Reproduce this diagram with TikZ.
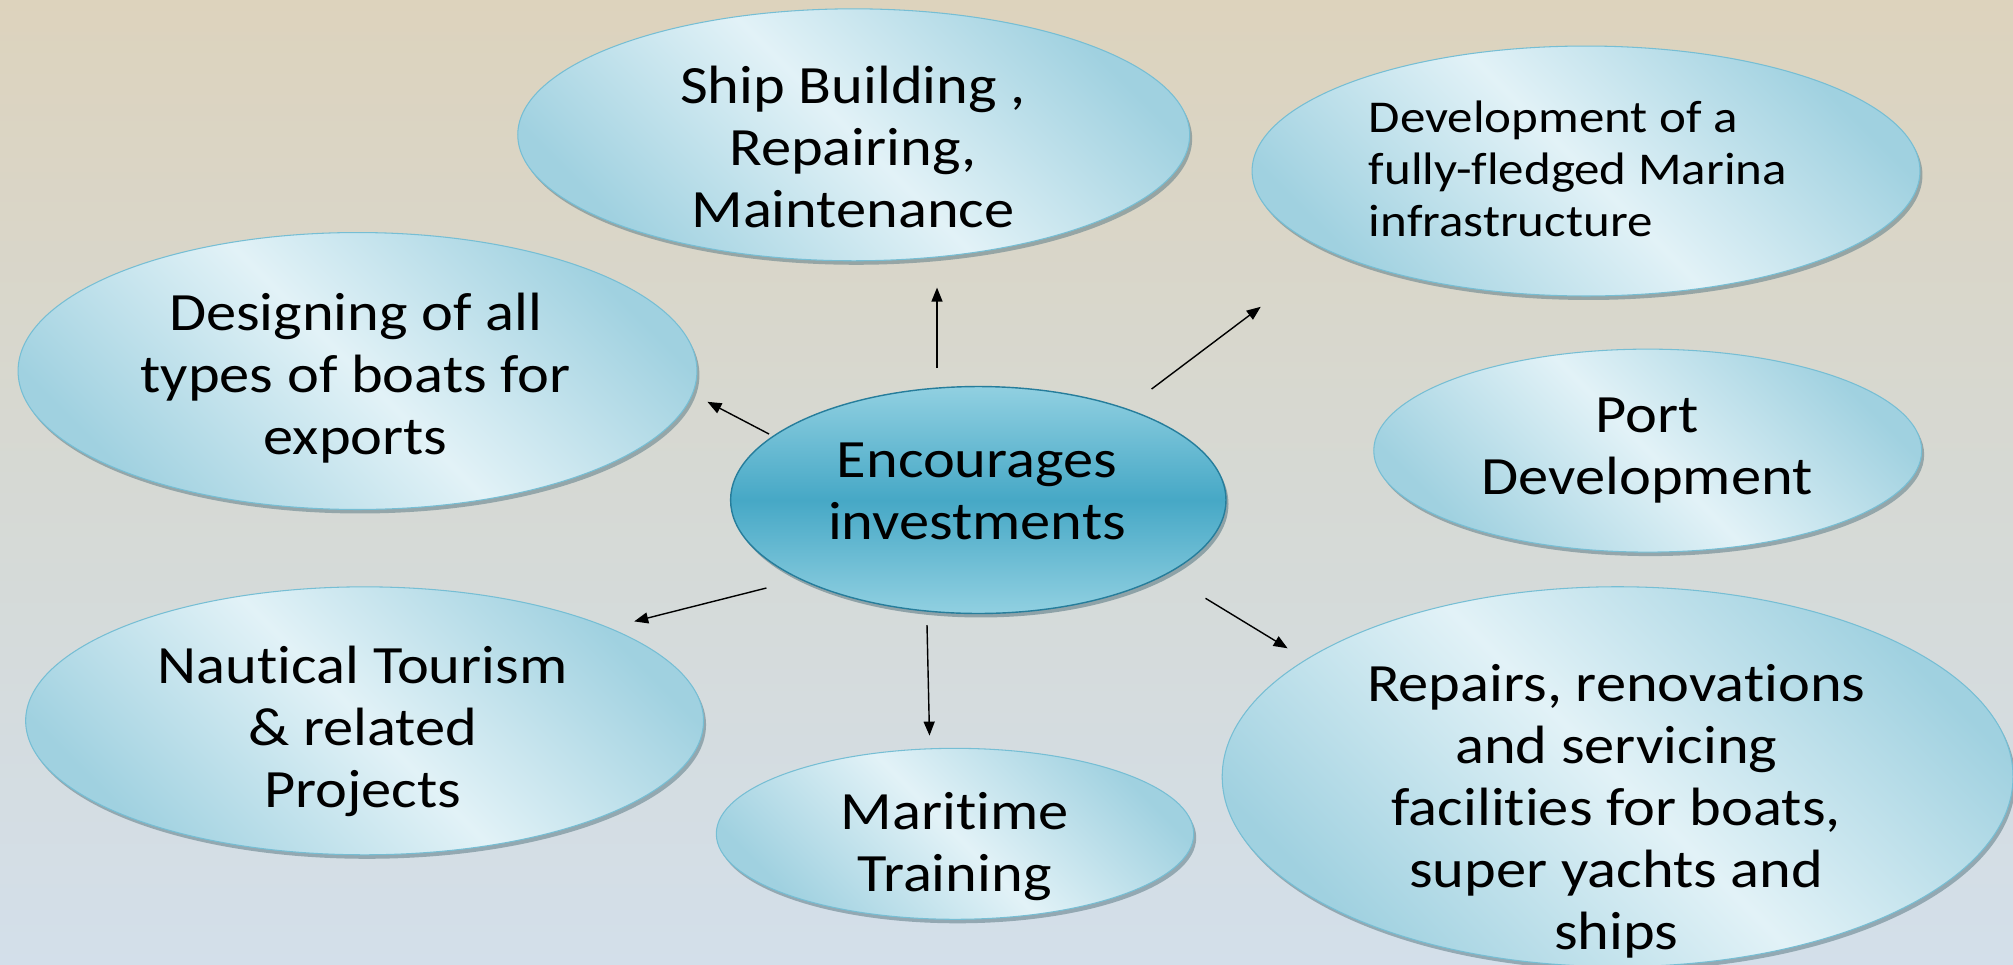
\documentclass[tikz,border=0pt]{standalone}
\usepackage{fontspec}
\setmainfont{Carlito}[FakeStretch=1.12,Ligatures=NoCommon]
\usetikzlibrary{shapes.geometric,shadows,arrows.meta}
\definecolor{bgtop}{RGB}{221,211,189}
\definecolor{bgmid}{RGB}{214,217,212}
\definecolor{bgbot}{RGB}{211,223,234}
\definecolor{bubdark}{RGB}{160,209,224}
\definecolor{bublight}{RGB}{226,242,247}
\definecolor{bubedge}{RGB}{118,190,212}
\definecolor{hubtop}{RGB}{145,208,225}
\definecolor{hubmid}{RGB}{70,168,198}
\definecolor{hubedge}{RGB}{38,125,155}
\definecolor{shadowc}{RGB}{95,125,135}
\tikzset{
  bubble/.style={ellipse, inner sep=0pt, draw=bubedge, line width=0.6pt,
    top color=bubdark, bottom color=bubdark, middle color=bublight, shading angle=-45,
    drop shadow={shadow xshift=0.05cm, shadow yshift=-0.08cm, fill=shadowc, opacity=0.55}},
  hub/.style={ellipse, inner sep=0pt, draw=hubedge, line width=0.8pt,
    top color=hubtop, bottom color=hubtop, middle color=hubmid,
    drop shadow={shadow xshift=0.05cm, shadow yshift=-0.08cm, fill=shadowc, opacity=0.6}},
  lbl/.style={align=center, inner sep=0pt, text=black, font=\fontsize{30.7}{35.3}\selectfont},
  smalllbl/.style={align=left, inner sep=0pt, text=black, font=\fontsize{25.9}{29.5}\selectfont},
  arr/.style={-{Triangle[length=2.8mm,width=2.2mm]}, line width=0.8pt, black}
}
\begin{document}
\begin{tikzpicture}[x=0.02cm,y=-0.02cm]
\useasboundingbox (0,0) rectangle (2013,964);
\shade[top color=bgtop, bottom color=bgbot, middle color=bgmid] (0,0) rectangle (2013,964);

\node[bubble, minimum width=13.44cm, minimum height=5.04cm] (ship) at (853.7,134.8) {};
\node[bubble, minimum width=13.36cm, minimum height=5.0cm] (marina) at (1586,171) {};
\node[bubble, minimum width=13.58cm, minimum height=5.54cm] (design) at (357.5,371) {};
\node[bubble, minimum width=10.96cm, minimum height=4.06cm] (port) at (1647.7,450.6) {};
\node[bubble, minimum width=13.56cm, minimum height=5.36cm] (naut) at (364.6,720.8) {};
\node[bubble, minimum width=9.55cm, minimum height=3.42cm] (train) at (955,833.8) {};
\node[bubble, minimum width=15.82cm, minimum height=7.6cm] (repair) at (1617.6,776.7) {};
\node[hub, minimum width=9.91cm, minimum height=4.54cm] (hub) at (978.3,500) {};

\node[lbl] (shipt) at (853,146.5) {Ship Building ,\\Repairing,\\Maintenance};
\node[smalllbl, anchor=west] (marinat) at (1368.5,168.8) {Development of a\\fully-fledged Marina\\infrastructure};
\node[lbl] (designt) at (355.6,378) {Designing of all\\types of boats for\\exports};
\node[lbl] (portt) at (1647,451) {Port\\Development};
\node[lbl] (hubt) at (977,491.5) {Encourages\\investments};
\node[lbl] (nautt) at (362.7,731) {Nautical Tourism\\\&~related\\Projects};
\node[lbl] (traint) at (954.5,847) {Maritime\\Training};
\node[lbl] (repairt) at (1616.3,811) {Repairs, renovations\\and servicing\\facilities for boats,\\super yachts and\\ships};

\coordinate (a1s) at (937,368);    \coordinate (a1e) at (937,287.6);
\coordinate (a2s) at (1151.6,389); \coordinate (a2e) at (1260.7,306.8);
\coordinate (a3s) at (769,434);    \coordinate (a3e) at (707.4,401.8);
\coordinate (a4s) at (766.4,588);  \coordinate (a4e) at (634.2,621.4);
\coordinate (a5s) at (927,625);    \coordinate (a5e) at (929.5,735.6);
\coordinate (a6s) at (1205.5,598.3); \coordinate (a6e) at (1287.6,648.3);

\draw[arr] (a1s) -- (a1e);
\draw[arr] (a2s) -- (a2e);
\draw[arr] (a3s) -- (a3e);
\draw[arr] (a4s) -- (a4e);
\draw[arr] (a5s) -- (a5e);
\draw[arr] (a6s) -- (a6e);
\end{tikzpicture}
\end{document}
